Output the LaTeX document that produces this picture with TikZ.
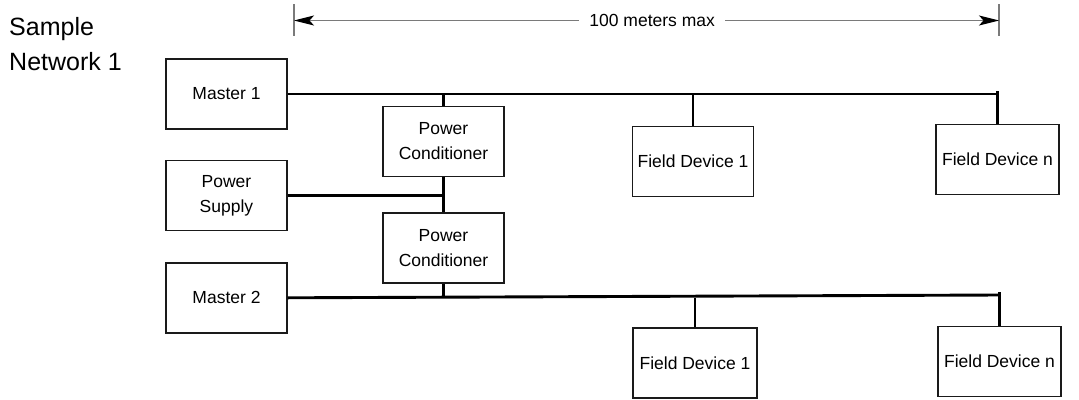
\documentclass[tikz,border=0pt]{standalone}
\usepackage{fontspec}
\setmainfont{Liberation Sans}
\usetikzlibrary{
  arrows.meta,
  positioning,
  calc
}
\definecolor{snBus}{HTML}{000000}
\definecolor{snEdge}{HTML}{1A1A1A}
\definecolor{snDim}{HTML}{7A7A7A}
\tikzset{
  snnode/.style={
    draw=snEdge, line width=1.4pt, minimum width=121pt, minimum height=70pt,
    inner sep=0pt, align=center, font=\fontsize{17.5}{25}\selectfont
  },
  bus/.style={line width=2.9pt, snBus},
  dimline/.style={
    {Stealth[length=20pt, width=10pt, inset=4.5pt, color=black]}-{Stealth[length=20pt, width=10pt, inset=4.5pt, color=black]},
    line width=1.2pt, snDim
  },
  dimtick/.style={line width=1.2pt, snDim},
  dimlabel/.style={fill=white, inner xsep=10pt, inner ysep=2pt, text=black, font=\fontsize{17.5}{21}\selectfont},
  title/.style={align=left, inner sep=0pt, font=\fontsize{25}{35}\selectfont}
}
\begin{document}
\begin{tikzpicture}[x=1pt, y=-1pt]
  \useasboundingbox (0,0) rectangle (1079,399);
  % title
  \node[title, anchor=north west] (ttl) at (9,17) {Sample\\Network 1};
  % devices
  \node[snnode] (m1) at (226.5,94) {Master 1};
  \node[snnode, below=30pt of m1] (ps) {Power\\Supply};
  \node[snnode, below=31pt of ps] (m2) {Master 2};
  \node[snnode] (pc1) at (443.5,141.5) {Power\\Conditioner};
  \node[snnode, below=35pt of pc1] (pc2) {Power\\Conditioner};
  \node[snnode] (fd1a) at (693,161.5) {Field Device 1};
  \node[snnode, minimum width=123pt] (fdna) at (997.5,159.5) {Field Device n};
  \node[snnode, minimum width=124pt] (fd1b) at (695,363) {Field Device 1};
  \node[snnode, minimum width=123pt] (fdnb) at (999.5,361.5) {Field Device n};
  % bus ends
  \coordinate (bus1R) at (997.5,94);
  \coordinate (bus1T) at (997.5,91);
  \coordinate (bus2R) at (999.5,295);
  \coordinate (bus2T) at (999.5,292);
  % dimension
  \coordinate (dimL) at (294,20.5);
  \coordinate (dimR) at (999,20.5);
  \draw[dimtick] (294,4) -- (294,36);
  \draw[dimtick] (999,4) -- (999,36);
  \draw[dimline] (dimL) -- (dimR) node[dimlabel, pos=0.508] (dimtxt) {100 meters max};
  % network 1
  \draw[bus] (m1.east) -- (bus1R);
  \draw[bus] (fdna.north) -- (bus1T);
  \draw[bus] (pc1.north) -- (pc1.north |- m1.east);
  \draw[bus] (fd1a.north) -- (fd1a.north |- m1.east);
  % supply
  \draw[bus] (ps.east) -- (ps.east -| pc1.south);
  \draw[bus] (pc1.south) -- (pc2.north);
  % network 2
  \draw[bus] (m2.east) -- (bus2R);
  \draw[bus] (fdnb.north) -- (bus2T);
  \draw[bus] (pc2.south) -- (pc2.south |- m2.east);
  \draw[bus] (fd1b.north) -- (fd1b.north |- m2.east);
\end{tikzpicture}
\end{document}
